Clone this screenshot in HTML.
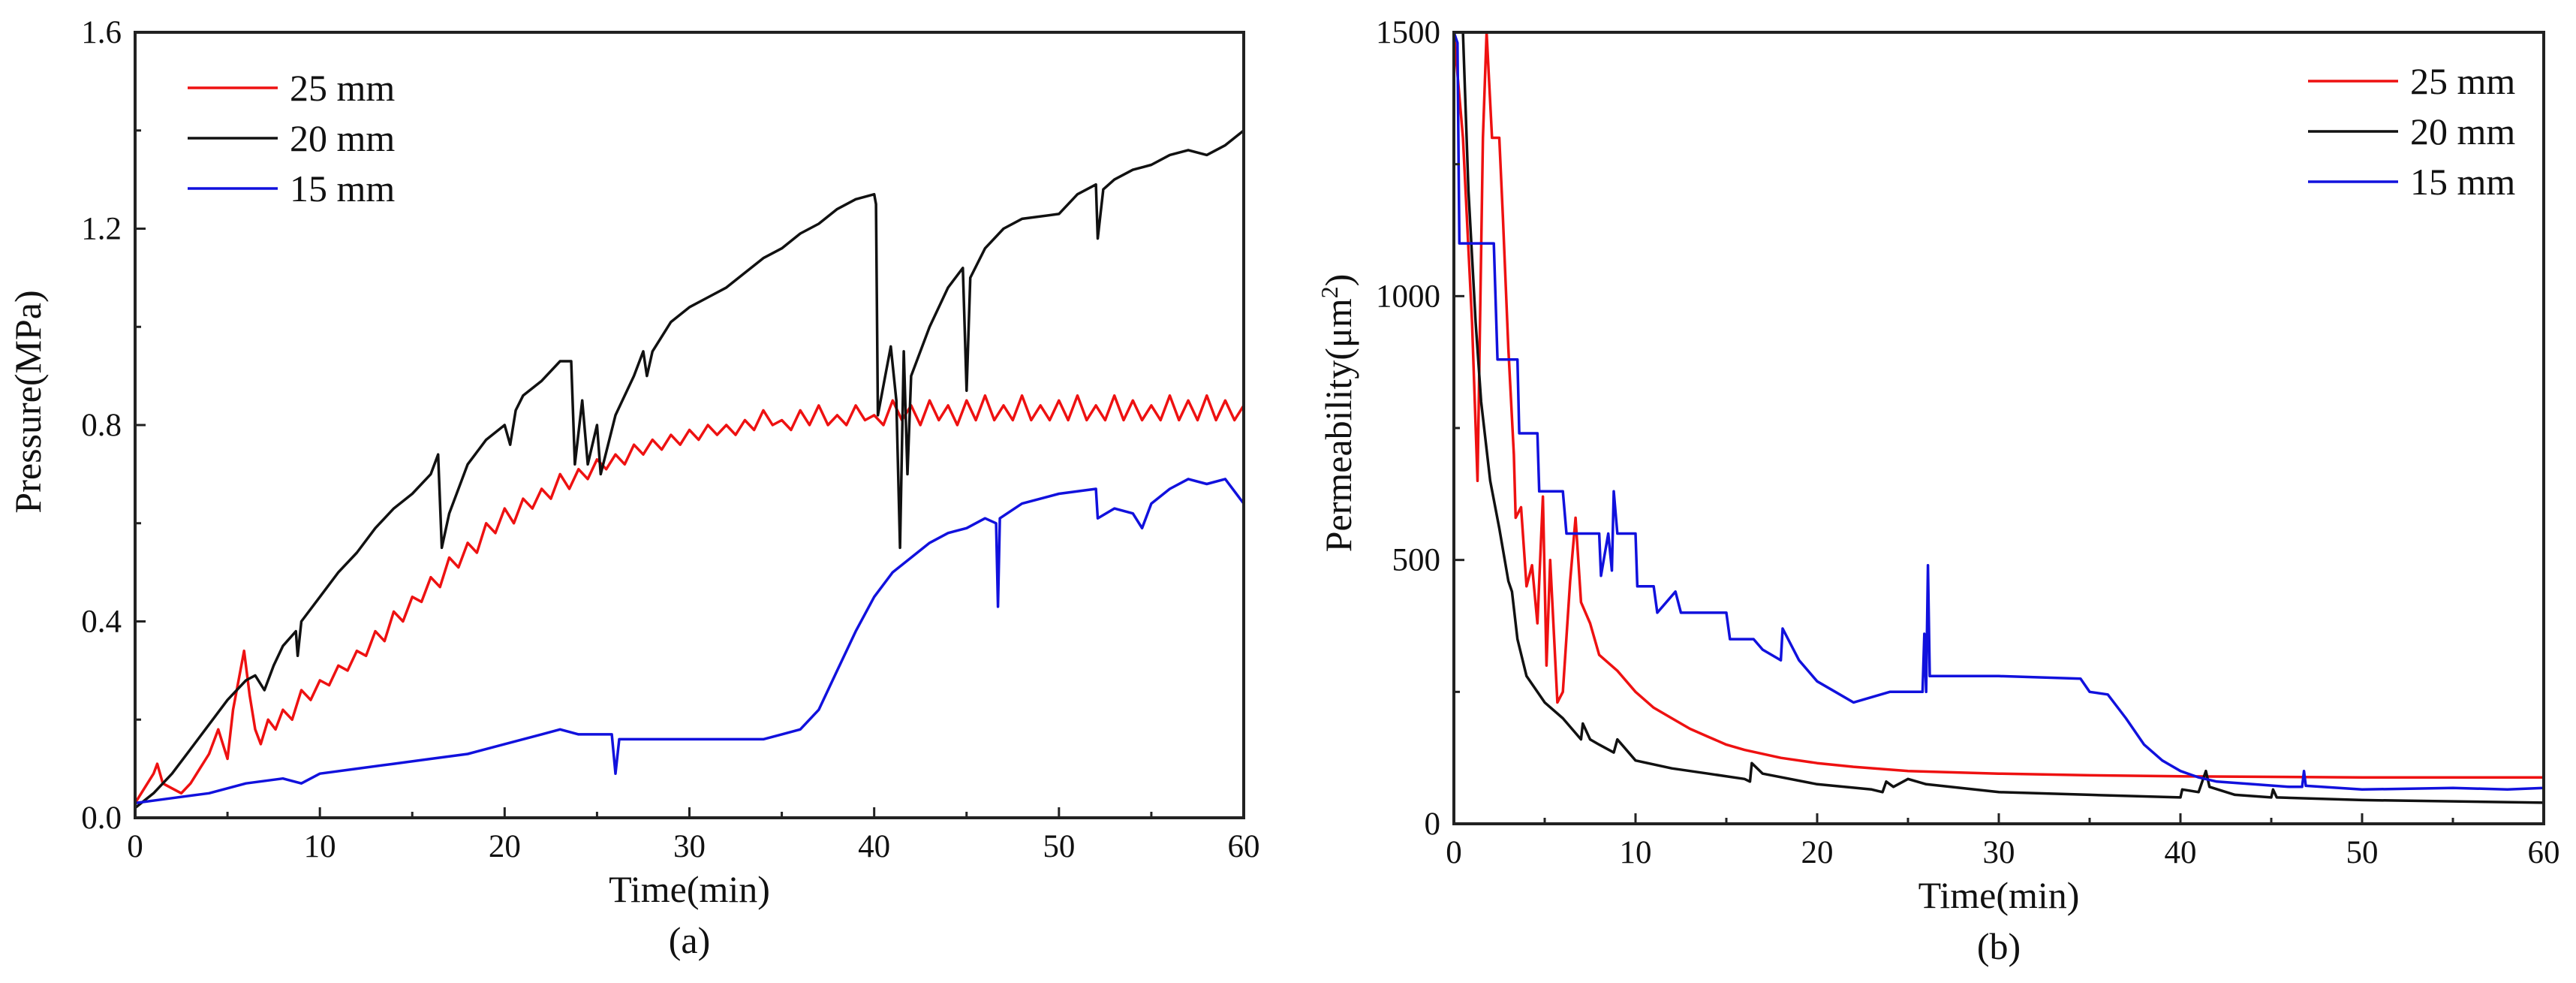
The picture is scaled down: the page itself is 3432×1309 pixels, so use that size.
<!DOCTYPE html>
<html><head><meta charset="utf-8"><style>
html,body{margin:0;padding:0;background:#fff;}
svg{display:block;font-family:"Liberation Serif",serif;}
</style></head><body>
<svg id="chart" width="3432" height="1309" viewBox="0 0 3432 1309"></svg>
<script>
// ---- Panel (a) data: Pressure (MPa) ----
const xTicks = [0,10,20,30,40,50,60];
const pTicks = [0.0,0.4,0.8,1.2,1.6];
const kTicks = [0,500,1000,1500];
const legendLabels = ["25 mm","20 mm","15 mm"];
const aRedT = [0,0.5,1,1.2,1.5,2,2.5,3,3.5,4,4.5,5,5.3,5.7,5.9,6.2,6.5,6.8,7.2,7.6,8,8.5,9,9.5,10,10.5,11,11.5,12,12.5,13,13.5,14,14.5,15,15.5,16,16.5,17,17.5,18,18.5,19,19.5,20,20.5,21,21.5,22,22.5,23,23.5,24,24.5,25,25.5,26,26.5,27,27.5,28,28.5,29,29.5,30,30.5,31,31.5,32,32.5,33,33.5,34,34.5,35,35.5,36,36.5,37,37.5,38,38.5,39,39.5,40,40.5,41,41.5,42,42.5,43,43.5,44,44.5,45,45.5,46,46.5,47,47.5,48,48.5,49,49.5,50,50.5,51,51.5,52,52.5,53,53.5,54,54.5,55,55.5,56,56.5,57,57.5,58,58.5,59,59.5,60];
const aRedV = [0.03,0.06,0.09,0.11,0.07,0.06,0.05,0.07,0.10,0.13,0.18,0.12,0.22,0.30,0.34,0.25,0.18,0.15,0.20,0.18,0.22,0.20,0.26,0.24,0.28,0.27,0.31,0.30,0.34,0.33,0.38,0.36,0.42,0.40,0.45,0.44,0.49,0.47,0.53,0.51,0.56,0.54,0.60,0.58,0.63,0.60,0.65,0.63,0.67,0.65,0.70,0.67,0.71,0.69,0.73,0.71,0.74,0.72,0.76,0.74,0.77,0.75,0.78,0.76,0.79,0.77,0.80,0.78,0.80,0.78,0.81,0.79,0.83,0.80,0.81,0.79,0.83,0.80,0.84,0.80,0.82,0.80,0.84,0.81,0.82,0.80,0.85,0.81,0.84,0.80,0.85,0.81,0.84,0.80,0.85,0.81,0.86,0.81,0.84,0.81,0.86,0.81,0.84,0.81,0.85,0.81,0.86,0.81,0.84,0.81,0.86,0.81,0.85,0.81,0.84,0.81,0.86,0.81,0.85,0.81,0.86,0.81,0.85,0.81,0.84];
const aBlkT = [0,1,2,3,4,5,6,6.5,7,7.5,8,8.7,8.8,9,10,11,12,13,14,15,16,16.4,16.6,17,18,19,20,20.3,20.6,21,22,23,23.6,23.8,24.2,24.5,25,25.2,26,27,27.5,27.7,28,29,30,31,32,33,34,35,36,37,38,39,40,40.1,40.2,40.6,40.9,41.2,41.4,41.6,41.8,42,43,44,44.8,45,45.2,46,47,48,50,51,52,52.1,52.4,53,54,55,56,57,58,59,60];
const aBlkV = [0.02,0.05,0.09,0.14,0.19,0.24,0.28,0.29,0.26,0.31,0.35,0.38,0.33,0.40,0.45,0.50,0.54,0.59,0.63,0.66,0.70,0.74,0.55,0.62,0.72,0.77,0.80,0.76,0.83,0.86,0.89,0.93,0.93,0.72,0.85,0.72,0.80,0.70,0.82,0.90,0.95,0.90,0.95,1.01,1.04,1.06,1.08,1.11,1.14,1.16,1.19,1.21,1.24,1.26,1.27,1.25,0.82,0.90,0.96,0.85,0.55,0.95,0.70,0.90,1.00,1.08,1.12,0.87,1.10,1.16,1.20,1.22,1.23,1.27,1.29,1.18,1.28,1.30,1.32,1.33,1.35,1.36,1.35,1.37,1.40];
const aBluT = [0,2,4,6,8,9,10,12,14,16,18,20,22,23,24,25,25.8,26,26.2,28,30,32,34,35,36,37,38,39,40,41,42,43,44,45,46,46.6,46.7,46.8,48,50,52,52.1,53,54,54.5,55,56,57,58,59,60];
const aBluV = [0.03,0.04,0.05,0.07,0.08,0.07,0.09,0.10,0.11,0.12,0.13,0.15,0.17,0.18,0.17,0.17,0.17,0.09,0.16,0.16,0.16,0.16,0.16,0.17,0.18,0.22,0.30,0.38,0.45,0.50,0.53,0.56,0.58,0.59,0.61,0.60,0.43,0.61,0.64,0.66,0.67,0.61,0.63,0.62,0.59,0.64,0.67,0.69,0.68,0.69,0.64];
// ---- Panel (b) data: Permeability (um^2) ----
const bRedT = [0,0.5,1,1.3,1.6,1.8,2.1,2.5,2.7,3,3.3,3.4,3.7,4,4.3,4.6,4.9,5.1,5.3,5.7,6,6.4,6.7,7,7.5,8,9,10,11,12,13,14,15,16,18,20,22,25,30,35,40,50,60];
const bRedV = [1500,1300,950,650,1300,1500,1300,1300,1150,900,700,580,600,450,490,380,620,300,500,230,250,460,580,420,380,320,290,250,220,200,180,165,150,140,125,115,108,100,95,92,90,88,88];
const bBlkT = [0,0.5,0.8,1.2,1.5,2,2.5,3,3.2,3.5,4,5,6,7,7.1,7.5,8,8.8,9,10,12,14,16,16.3,16.4,17,20,23,23.6,23.8,24.2,25,26,30,35,40,40.1,41,41.4,41.6,43,45,45.1,45.3,50,60];
const bBlkV = [1500,1500,1200,950,800,650,560,460,440,350,280,230,200,160,190,160,150,135,160,120,105,95,85,80,115,95,75,65,60,80,70,85,75,60,55,50,65,60,100,70,55,50,65,50,45,40];
const bBluT = [0,0.2,0.3,2.2,2.4,3.5,3.6,4.6,4.7,6,6.2,8,8.1,8.5,8.7,8.8,9,10,10.1,11,11.2,12.2,12.5,15,15.2,16.5,17,18,18.1,19,20,21,22,24,25.8,25.9,26,26.1,26.2,30,34.5,35,36,37,38,39,40,41,42,44,46,46.7,46.8,46.9,50,55,58,60];
const bBluV = [1500,1480,1100,1100,880,880,740,740,630,630,550,550,470,550,480,630,550,550,450,450,400,440,400,400,350,350,330,310,370,310,270,250,230,250,250,360,250,490,280,280,275,250,245,200,150,120,100,88,80,75,70,70,100,72,65,68,65,68];

const NS = "http://www.w3.org/2000/svg";
const svg = document.getElementById('chart');
function mk(tag, attrs, parent){
  const e = document.createElementNS(NS, tag);
  for (const k in attrs) e.setAttribute(k, attrs[k]);
  (parent||svg).appendChild(e);
  return e;
}
function panel(cfg){
  const g = mk('g', {});
  
  
  const L=cfg.L,R=cfg.R,T=cfg.T,B=cfg.B;
  const sx = t => L + (t-0)/60*(R-L);
  const sy = v => B - (v-cfg.ymin)/(cfg.ymax-cfg.ymin)*(B-T);
  const cp = mk('clipPath', {id:cfg.name+'-clip'}, g);
  mk('rect', {x:L,y:T,width:R-L,height:B-T}, cp);
  cfg.series.forEach(s=>{
    let d='';
    s.t.forEach((t,i)=>{ d += (i?'L':'M') + sx(t).toFixed(1) + ' ' + sy(s.v[i]).toFixed(1); });
    const p = mk('path', {d:d, fill:'none', stroke:s.color, 'stroke-width':3.5, 'stroke-linejoin':'round', 'clip-path':'url(#'+cfg.name+'-clip)'}, g);
    
    
  });
  const fr = mk('rect', {x:L,y:T,width:R-L,height:B-T,fill:'none',stroke:'#222','stroke-width':4}, g);
  
  
  xTicks.forEach(t=>{
    mk('line', {x1:sx(t),x2:sx(t),y1:B,y2:B-14,stroke:'#222','stroke-width':3}, g);
    if (t<60) mk('line', {x1:sx(t+5),x2:sx(t+5),y1:B,y2:B-8,stroke:'#222','stroke-width':3}, g);
    const tx = mk('text', {x:sx(t), y:B+52, 'font-size':43, 'text-anchor':'middle', fill:'#111'}, g);
    tx.textContent = t;
    
    
  });
  cfg.yTicks.forEach((v,i)=>{
    mk('line', {x1:L,x2:L+14,y1:sy(v),y2:sy(v),stroke:'#222','stroke-width':3}, g);
    if (i<cfg.yTicks.length-1){ const m=(v+cfg.yTicks[i+1])/2; mk('line', {x1:L,x2:L+8,y1:sy(m),y2:sy(m),stroke:'#222','stroke-width':3}, g); }
    const ty = mk('text', {x:L-18, y:sy(v)+14, 'font-size':43, 'text-anchor':'end', fill:'#111'}, g);
    ty.textContent = cfg.fmt(v);
    
    
  });
  const xt = mk('text', {x:(L+R)/2, y:B+112, 'font-size':50, 'text-anchor':'middle', fill:'#111'}, g);
  xt.textContent = 'Time(min)';
  
  
  const cap = mk('text', {x:(L+R)/2, y:B+180, 'font-size':50, 'text-anchor':'middle', fill:'#111'}, g);
  cap.textContent = cfg.caption;
  
  
  const yt = mk('text', {x:cfg.ylx, y:cfg.yly, 'font-size':50, 'text-anchor':'middle', fill:'#111', transform:'rotate(-90 '+cfg.ylx+' '+cfg.yly+')'}, g);
  yt.innerHTML = cfg.ylabel;
  
  
  cfg.series.forEach((s,i)=>{
    const y = cfg.legY + i*67;
    const lg = mk('g', {}, g);
    
    
    mk('line', {x1:cfg.legX, x2:cfg.legX+120, y1:y, y2:y, stroke:s.color, 'stroke-width':3.5}, lg);
    const lt = mk('text', {x:cfg.legX+136, y:y+17, 'font-size':50, fill:'#111'}, lg);
    lt.textContent = legendLabels[i];
  });
}
panel({name:'pressure-chart', L:180, R:1657, T:43, B:1089, ymin:0, ymax:1.6, yTicks:pTicks,
  fmt:v=>v.toFixed(1), caption:'(a)', ylabel:'Pressure(MPa)', ylx:54, yly:535, legX:250, legY:117,
  series:[{name:'series-25mm',color:'#ee1111',t:aRedT,v:aRedV},{name:'series-20mm',color:'#111111',t:aBlkT,v:aBlkV},{name:'series-15mm',color:'#1111dd',t:aBluT,v:aBluV}]});
panel({name:'permeability-chart', L:1937, R:3389, T:43, B:1097, ymin:0, ymax:1500, yTicks:kTicks,
  fmt:v=>String(v), caption:'(b)', ylabel:'Permeability(μm<tspan dy="-18" font-size="32">2</tspan><tspan dy="18">)</tspan>', ylx:1800, yly:550, legX:3075, legY:108,
  series:[{name:'series-25mm',color:'#ee1111',t:bRedT,v:bRedV},{name:'series-20mm',color:'#111111',t:bBlkT,v:bBlkV},{name:'series-15mm',color:'#1111dd',t:bBluT,v:bBluV}]});
</script>
</body></html>
